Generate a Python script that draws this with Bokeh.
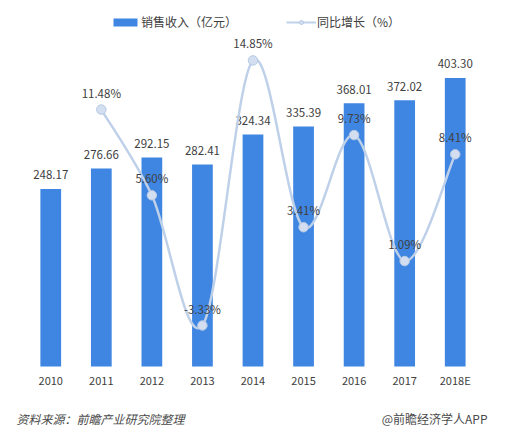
from bokeh.plotting import figure
from bokeh.models import Range1d, Label, Legend, LegendItem, ColumnDataSource, FixedTicker
from bokeh.core.properties import value
from bokeh.embed import file_html
from bokeh.resources import INLINE

years = ["2010", "2011", "2012", "2013", "2014", "2015", "2016", "2017", "2018E"]
revenue = [248.17, 276.66, 292.15, 282.41, 324.34, 335.39, 368.01, 372.02, 403.30]
growth_years_idx = [1, 2, 3, 4, 5, 6, 7, 8]
growth = [11.48, 5.60, -3.33, 14.85, 3.41, 9.73, 1.09, 8.41]

FONT = "Noto Sans CJK SC"
BAR_COLOR = "#3f86e2"
LINE_COLOR = "#bfd0e9"
TEXT_COLOR = "#404040"
NAN = float("nan")

p = figure(width=507, height=437, output_backend="svg", toolbar_location=None,
           x_range=Range1d(-0.994, 9.034), y_range=Range1d(-99.2, 511.5),
           y_axis_location=None, min_border_left=0, min_border_right=0,
           min_border_top=0, min_border_bottom=0, outline_line_color=None)
p.extra_y_ranges = {"pct": Range1d(-11.01, 18.96)}
p.grid.visible = False

xs = list(range(len(years)))
src = ColumnDataSource(dict(x=xs, y=revenue, lab=[f"{v:.2f}" for v in revenue]))
bars = p.vbar(x="x", top="y", width=0.41, source=src, color=BAR_COLOR, line_color=None)
p.text(x="x", y="y", text="lab", source=src, text_align="center", text_baseline="middle",
       y_offset=-14, text_font_size="11.5px", text_color=TEXT_COLOR, text_font=value(FONT))

# smooth curve (Catmull-Rom through the data points)
gx = growth_years_idx
gy = growth
n = len(gx)
x0, y0, x1, y1, cx0, cy0, cx1, cy1 = [], [], [], [], [], [], [], []
for i in range(n - 1):
    pxm = gx[i - 1] if i > 0 else gx[i]
    pym = gy[i - 1] if i > 0 else gy[i]
    pxp = gx[i + 2] if i + 2 < n else gx[i + 1]
    pyp = gy[i + 2] if i + 2 < n else gy[i + 1]
    x0.append(gx[i]); y0.append(gy[i]); x1.append(gx[i + 1]); y1.append(gy[i + 1])
    cx0.append(gx[i] + (gx[i + 1] - pxm) / 6); cy0.append(gy[i] + (gy[i + 1] - pym) / 6)
    cx1.append(gx[i + 1] - (pxp - gx[i]) / 6); cy1.append(gy[i + 1] - (pyp - gy[i]) / 6)
p.bezier(x0=x0, y0=y0, x1=x1, y1=y1, cx0=cx0, cy0=cy0, cx1=cx1, cy1=cy1,
         line_color=LINE_COLOR, line_width=2.5, y_range_name="pct")
gsrc = ColumnDataSource(dict(x=gx, y=gy, lab=[f"{v:.2f}%" for v in gy]))
pts = p.scatter(x="x", y="y", source=gsrc, size=9.5, fill_color="#d3def0",
                line_color="#b7c9e4", line_width=1, y_range_name="pct")
p.text(x="x", y="y", text="lab", source=gsrc, text_align="center", text_baseline="middle",
       y_offset=-17, text_font_size="11.5px", text_color=TEXT_COLOR, text_font=value(FONT),
       y_range_name="pct")

# legend proxies (one NaN point each, so nothing is drawn in the plot)
leg_line = p.line(x=[NAN], y=[NAN], line_color=LINE_COLOR, line_width=2)
leg_pt = p.scatter(x=[NAN], y=[NAN], size=6, fill_color="#d3def0", line_color="#b7c9e4")
legend = Legend(items=[LegendItem(label="销售收入（亿元）", renderers=[bars]),
                       LegendItem(label="同比增长（%）", renderers=[leg_line, leg_pt])],
                orientation="horizontal", location=(110, 407), glyph_width=30, glyph_height=10,
                label_standoff=1, spacing=49, padding=0, margin=0,
                border_line_alpha=0, background_fill_alpha=0,
                label_text_font_size="12px", label_text_font=FONT, label_text_color=TEXT_COLOR)
p.add_layout(legend, "center")

ax = p.xaxis[0]
ax.fixed_location = 0
ax.ticker = FixedTicker(ticks=xs)
ax.major_label_overrides = {i: y for i, y in enumerate(years)}
ax.axis_line_color = None
ax.major_tick_line_color = None
ax.minor_tick_line_color = None
ax.major_tick_out = 0
ax.major_tick_in = 0
ax.major_label_standoff = 5
ax.major_label_text_font_size = "11px"
ax.major_label_text_font = FONT
ax.major_label_text_color = TEXT_COLOR

p.add_layout(Label(x=-0.678, y=-72.7, text="资料来源：前瞻产业研究院整理", text_font=FONT,
                   text_font_size="12px", text_font_style="italic", text_color="#4a4a4a",
                   text_baseline="middle", text_align="left"))
p.add_layout(Label(x=8.638, y=-72.7, text="@前瞻经济学人APP", text_font=FONT,
                   text_font_size="12px", text_color="#4a4a4a",
                   text_baseline="middle", text_align="right"))

open("out.html", "w").write(file_html(p, INLINE))
